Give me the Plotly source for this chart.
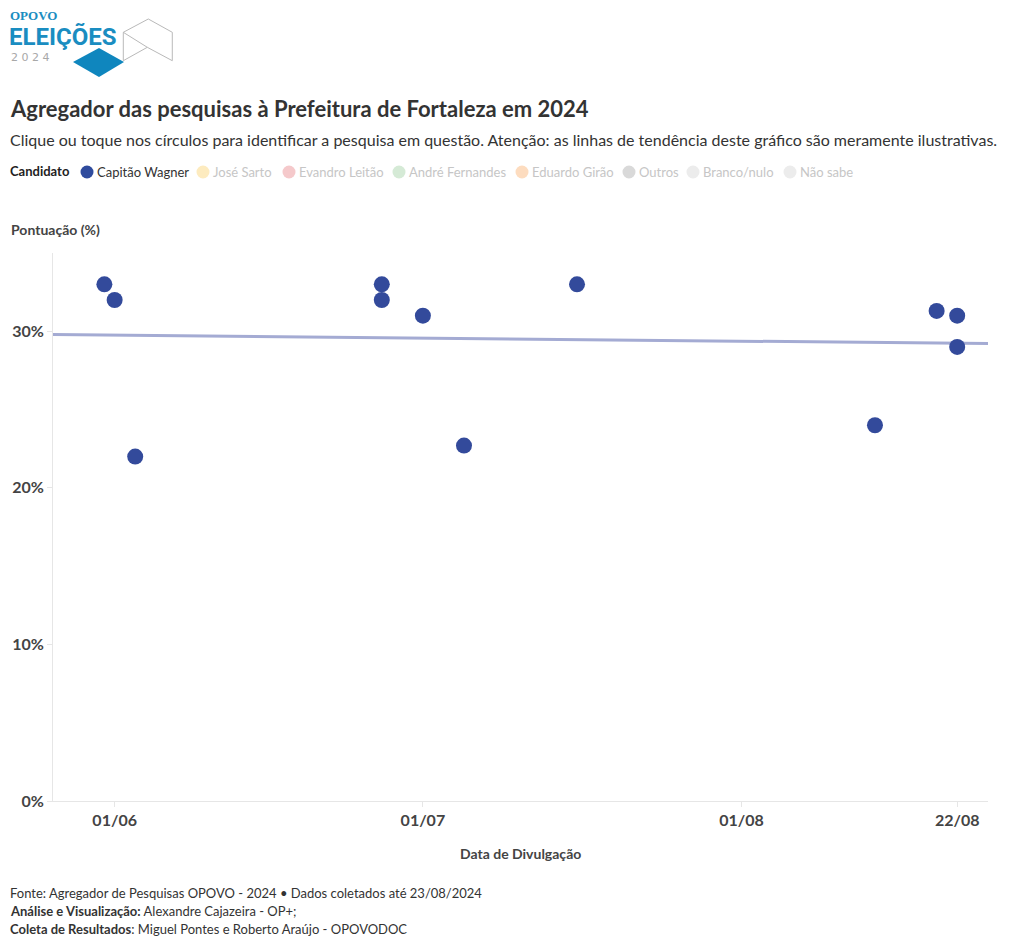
import numpy as np
import pandas as pd
import plotly.graph_objects as go

# ---------------- data ----------------
candidate = "Capitão Wagner"
dates = ["2024-05-31", "2024-06-01", "2024-06-03", "2024-06-27", "2024-06-27",
         "2024-07-01", "2024-07-05", "2024-07-16", "2024-08-14", "2024-08-20",
         "2024-08-22", "2024-08-22"]
values = [33, 32, 22, 33, 32, 31, 22.7, 33, 24, 31.3, 31, 29]

x_range = ["2024-05-26", "2024-08-25"]
x_tickvals = ["2024-06-01", "2024-07-01", "2024-08-01", "2024-08-22"]
x_ticktext = ["01/06", "01/07", "01/08", "22/08"]
y_tickvals = [0, 10, 20, 30]
y_ticktext = ["0%", "10%", "20%", "30%"]

legend_names = ["Capitão Wagner", "José Sarto", "Evandro Leitão", "André Fernandes",
                "Eduardo Girão", "Outros", "Branco/nulo", "Não sabe"]
legend_colors = ["#2f4b9d", "#fdebbf", "#f5c9cb", "#d5ead6", "#fddcbf",
                 "#d9d9d9", "#ececec", "#ececec"]
legend_active = [True, False, False, False, False, False, False, False]

title = "Agregador das pesquisas à Prefeitura de Fortaleza em 2024"
subtitle = ("Clique ou toque nos círculos para identificar a pesquisa em questão. "
            "Atenção: as linhas de tendência deste gráfico são meramente ilustrativas.")
footer = ["Fonte: Agregador de Pesquisas OPOVO - 2024 • Dados coletados até 23/08/2024",
          "<b>Análise e Visualização:</b> Alexandre Cajazeira - OP+;",
          "<b>Coleta de Resultados</b>: Miguel Pontes e Roberto Araújo - OPOVODOC"]

# ---------------- layout geometry ----------------
OFF = 8                      # page body margin of the browser
W, H = 1020 - OFF, 949 - OFF
L, R, T, B = 53, 988, 253, 801   # plot area in window pixels
FONT = "Lato, 'Source Sans Pro', 'Noto Sans', sans-serif"


def px(x):
    return (x - L) / (R - L)


def py(y):
    return (B - y) / (B - T)


d = pd.to_datetime(pd.Series(dates))
t0 = pd.Timestamp("2024-01-01")
days = (d - t0).dt.days.to_numpy(dtype=float)
slope, icpt = np.polyfit(days, np.array(values, dtype=float), 1)
xr = pd.to_datetime(pd.Series(x_range))
xr_days = (xr - t0).dt.days.to_numpy(dtype=float)
trend_y = slope * xr_days + icpt

fig = go.Figure()
fig.add_trace(go.Scatter(
    x=x_range, y=trend_y, mode="lines",
    line=dict(color="#a4abd3", width=3), hoverinfo="skip", showlegend=False))
fig.add_trace(go.Scatter(
    x=dates, y=values, mode="markers", name=candidate,
    marker=dict(size=16, color="#334a9b", line=dict(width=0)),
    hovertemplate="%{x|%d/%m}: %{y}%<extra>" + candidate + "</extra>",
    showlegend=False))

shapes = []
annotations = []


def text(x, y, s, size, color="#333", weight="normal", family=FONT, xanchor="left"):
    annotations.append(dict(
        x=px(x), y=py(y), xref="paper", yref="paper", text=s, showarrow=False,
        xanchor=xanchor, yanchor="middle", align="left", borderpad=0,
        font=dict(size=size, color=color, family=family, weight=weight)))


# title & subtitle
text(9, 108, title, 22, "#333", "bold")
text(9, 139, subtitle, 16, "#333")

# legend row
text(9, 171, "Candidato", 13, "#222", "bold")
leg_circle_x = [87, 203, 289, 399, 522, 629, 693, 790]
for name, col, act, cx in zip(legend_names, legend_colors, legend_active, leg_circle_x):
    r = 6.5
    shapes.append(dict(type="circle", xref="paper", yref="paper",
                       x0=px(cx - r), x1=px(cx + r), y0=py(172 + r), y1=py(172 - r),
                       fillcolor=col, line=dict(width=0)))
    text(cx + 9, 172, name, 13, "#333" if act else "#c6c6c6")

# axis titles
text(10, 229, "Pontuação (%)", 14, "#444", "bold")
text((L + R) / 2, 853, "Data de Divulgação", 14, "#444", "bold", xanchor="center")

# footer
for i, line in enumerate(footer):
    text(9, 893 + i * 18, line, 13, "#333")

# ---------------- logo ----------------
blue = "#1a8dc1"
text(9, 16, "<b>OPOVO</b>", 13, blue, family="'Liberation Serif', 'DejaVu Serif', serif")
text(8, 37, "<b>ELEIÇÕES</b>", 24, blue, family="Roboto, 'Liberation Sans', sans-serif")
text(10, 57, "2 0 2 4", 11, "#a8a8a8", family="'DejaVu Sans', sans-serif")


def path(pts, close=True):
    s = "M " + " L ".join(f"{px(x):.5f},{py(y):.5f}" for x, y in pts)
    return s + (" Z" if close else "")


shapes.append(dict(type="path", xref="paper", yref="paper",
                   path=path([(73, 62), (99, 48), (124, 62), (99, 77)]),
                   fillcolor="#0f86be", line=dict(width=0)))
for seg in [[(123.3, 32.3), (148.3, 19), (172.3, 32.3), (172.3, 60.7), (147.3, 47.3), (123.3, 32.3)],
            [(123.3, 32.3), (123.3, 60.7), (147.3, 47.3)]]:
    shapes.append(dict(type="path", xref="paper", yref="paper",
                       path=path(seg, close=False),
                       line=dict(color="#b9b9b9", width=1)))

fig.update_layout(
    width=W, height=H,
    margin=dict(l=L - OFF, r=1020 - R, t=T - OFF, b=949 - B, pad=0, autoexpand=False),
    paper_bgcolor="white", plot_bgcolor="white",
    font=dict(family=FONT, color="#333"),
    showlegend=False,
    shapes=shapes, annotations=annotations,
    xaxis=dict(type="date", range=x_range, tickmode="array",
               tickvals=x_tickvals, ticktext=x_ticktext, automargin=False,
               showgrid=False, zeroline=False, showline=True, linecolor="#e6e6e6",
               linewidth=1, ticks="outside", ticklen=5, tickcolor="#e6e6e6",
               tickfont=dict(size=16, color="#444", family=FONT, weight="bold"),
               fixedrange=True),
    yaxis=dict(range=[0, 35], tickmode="array", tickvals=y_tickvals, ticktext=y_ticktext,
               automargin=False,
               showgrid=False, zeroline=False, showline=True, linecolor="#e6e6e6",
               linewidth=1, ticks="outside", ticklen=5, tickcolor="#e6e6e6",
               tickfont=dict(size=16, color="#444", family=FONT, weight="bold"),
               fixedrange=True),
)

fig.write_html("out.html", config={"displayModeBar": False})
